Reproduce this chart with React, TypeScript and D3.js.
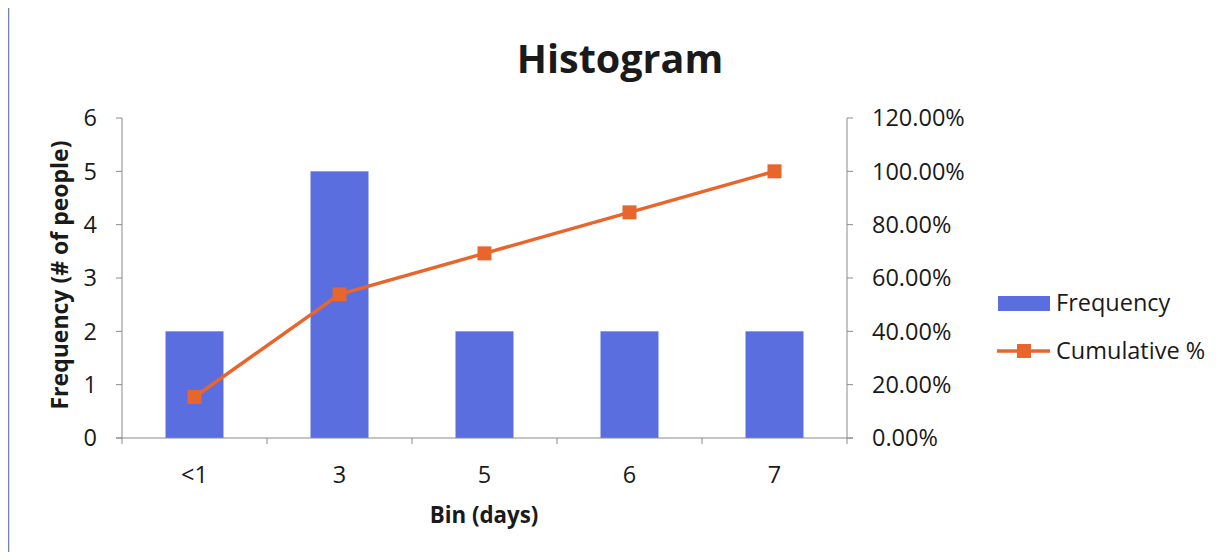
import React from "react";
import * as d3 from "d3";

const categories = ["<1", "3", "5", "6", "7"];
const frequency = [2, 5, 2, 2, 2];
const cumulativePct = [15.38, 53.85, 69.23, 84.62, 100];
const leftTicks = [0, 1, 2, 3, 4, 5, 6];
const rightTicks = [0, 20, 40, 60, 80, 100, 120];

const W = 1225;
const H = 560;
const FONT = "'Open Sans', sans-serif";
const BAR = "#5a6ee0";
const LINE = "#e8652b";
const AXIS = "#8a8a8a";
const TXT = "#1a1a1a";

export default function App() {
  const left = 122;
  const right = 847;
  const top = 118;
  const bottom = 438;

  const xb = d3.scaleBand<string>().domain(categories).range([left, right]);
  const yL = d3.scaleLinear().domain([0, 6]).range([bottom, top]);
  const yR = d3.scaleLinear().domain([0, 120]).range([bottom, top]);
  const cx = (i: number) => (xb(categories[i]) as number) + xb.bandwidth() / 2;

  const line = d3
    .line<number>()
    .x((_, i) => cx(i))
    .y((d) => yR(d));

  return (
    <div style={{ margin: -8 }}>
      <svg width={W} height={H} style={{ display: "block", background: "#fff" }} fontFamily={FONT}>
        <rect x={8.5} y={6.5} width={1213} height={550} fill="#fff" stroke="#b0b0b0" strokeWidth={1} />
        <line x1={8.5} y1={6.5} x2={8.5} y2={556.5} stroke="#7080b0" strokeWidth={1.5} />

        <text x={620} y={73} textAnchor="middle" fontSize={39.5} fontWeight="bold" fill={TXT}>
          Histogram
        </text>

        {/* bars */}
        {frequency.map((v, i) => {
          const bw = xb.bandwidth() * 0.4;
          return (
            <rect key={i} x={cx(i) - bw / 2} y={yL(v)} width={bw} height={yL(0) - yL(v)} fill={BAR} />
          );
        })}

        {/* left axis */}
        <line x1={left} y1={top} x2={left} y2={bottom} stroke={AXIS} />
        {leftTicks.map((t) => (
          <g key={t}>
            <line x1={left - 6} x2={left} y1={yL(t)} y2={yL(t)} stroke={AXIS} />
            <text x={97} y={yL(t)} dy="0.36em" textAnchor="end" fontSize={23.5} fill={TXT}>
              {t}
            </text>
          </g>
        ))}

        {/* right axis */}
        <line x1={right} y1={top} x2={right} y2={bottom} stroke={AXIS} />
        {rightTicks.map((t) => (
          <g key={t}>
            <line x1={right} x2={right + 6} y1={yR(t)} y2={yR(t)} stroke={AXIS} />
            <text x={right + 25} y={yR(t)} dy="0.36em" textAnchor="start" fontSize={23.5} fill={TXT}>
              {t.toFixed(2)}%
            </text>
          </g>
        ))}

        {/* x axis */}
        <line x1={left - 6} x2={right + 6} y1={bottom} y2={bottom} stroke={AXIS} />
        {categories.map((c, i) => (
          <g key={c}>
            <line x1={xb(c) as number} x2={xb(c) as number} y1={bottom} y2={bottom + 6} stroke={AXIS} />
            <text x={cx(i)} y={483} textAnchor="middle" fontSize={23.5} fill={TXT}>
              {c}
            </text>
          </g>
        ))}
        <line x1={right} x2={right} y1={bottom} y2={bottom + 6} stroke={AXIS} />

        {/* cumulative line */}
        <path d={line(cumulativePct) as string} fill="none" stroke={LINE} strokeWidth={3.5} />
        {cumulativePct.map((v, i) => (
          <rect key={i} x={cx(i) - 7} y={yR(v) - 7} width={14} height={14} fill={LINE} />
        ))}

        {/* axis titles */}
        <text
          transform="translate(68,275) rotate(-90)"
          textAnchor="middle"
          fontSize={23}
          fontWeight="bold"
          fill={TXT}
        >
          Frequency (# of people)
        </text>
        <text x={484} y={523} textAnchor="middle" fontSize={22.3} fontWeight="bold" fill={TXT}>
          Bin (days)
        </text>

        {/* legend */}
        <rect x={998} y={296} width={52} height={15} fill={BAR} />
        <text x={1056} y={303} dy="0.36em" fontSize={23.5} fill={TXT}>
          Frequency
        </text>
        <line x1={997} x2={1050} y1={351} y2={351} stroke={LINE} strokeWidth={3.5} />
        <rect x={1017} y={344} width={14} height={14} fill={LINE} />
        <text x={1056} y={351} dy="0.36em" fontSize={23.5} fill={TXT}>
          Cumulative %
        </text>
      </svg>
    </div>
  );
}
